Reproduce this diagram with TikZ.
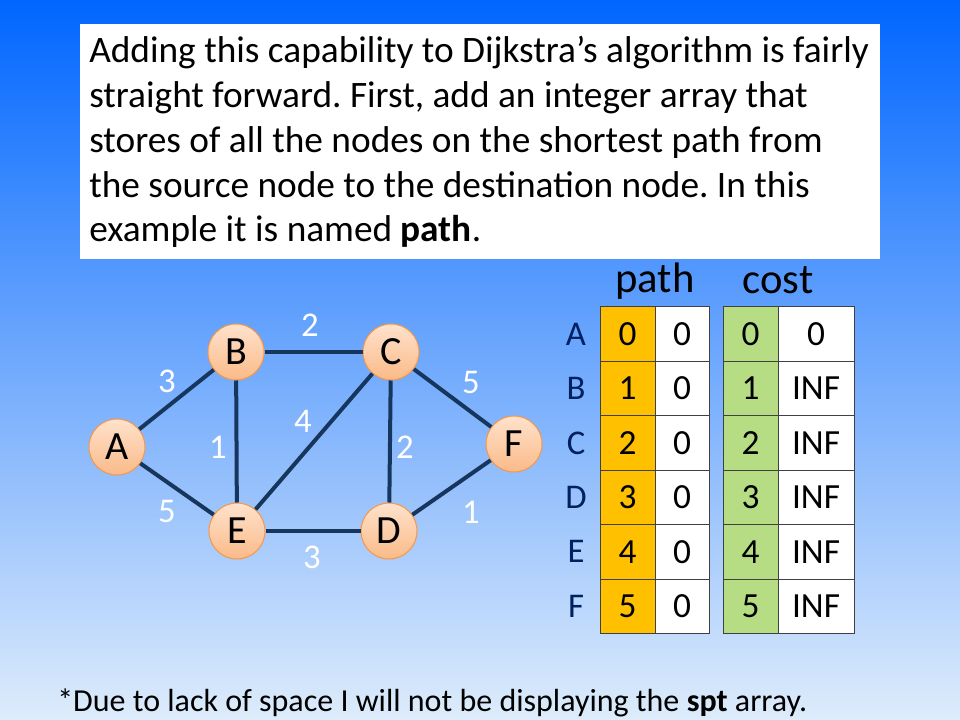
\documentclass[tikz,border=0pt]{standalone}
\usepackage{fontspec}
\setmainfont{Carlito}
\usepackage{tikz}
\usetikzlibrary{positioning}
\definecolor{slidetop}{RGB}{0,102,255}
\definecolor{slidemid}{RGB}{98,172,250}
\definecolor{slidebottom}{RGB}{222,236,251}
\definecolor{edgenavy}{RGB}{23,54,93}
\definecolor{nodeorange}{RGB}{247,150,70}
\definecolor{nodelight}{RGB}{255,226,204}
\definecolor{nodedark}{RGB}{250,186,136}
\definecolor{labelblue}{RGB}{0,32,96}
\definecolor{pathorange}{RGB}{255,192,0}
\definecolor{costgreen}{RGB}{182,221,132}
\definecolor{cellgray}{RGB}{64,64,64}
\frenchspacing

\begin{document}
\begin{tikzpicture}[x=0.75pt, y=-0.75pt,
    vertex/.style={circle, draw=nodeorange, line width=0.75pt, top color=nodelight, bottom color=nodedark,
        minimum size=42pt, inner sep=0pt, font=\fontsize{30}{36}\selectfont},
    edge/.style={draw=edgenavy, line width=3pt},
    weight/.style={text=white, inner sep=0pt, font=\fontsize{26}{31}\selectfont},
    cell/.style={draw=cellgray, line width=0.75pt, minimum height=40.8pt, inner sep=0pt, font=\fontsize{26.5}{32}\selectfont},
    rowlabel/.style={text=labelblue, inner sep=0pt, font=\fontsize{26}{31}\selectfont},
    head/.style={anchor=base, inner sep=0pt, font=\fontsize{32}{38}\selectfont}]
    % Slide
    \shade[top color=slidetop, middle color=slidemid, bottom color=slidebottom] (0,0) rectangle (960,720);
    \useasboundingbox (0,0) rectangle (960,720);

    % Intro text
    \fill[white] (80,24) rectangle (880,259);
    \node[anchor=base west, inner sep=0pt, align=left, font=\fontsize{28}{33.6}\selectfont] (intro) at (89,242)
        {Adding this capability to Dijkstra’s algorithm is fairly\\
         straight forward. First, add an integer array that\\
         stores of all the nodes on the shortest path from\\
         the source node to the destination node. In this\\
         example it is named \textbf{path}.};

    % Graph
    \node[vertex] (A) at (117,447) {A};
    \node[vertex] (B) at (236,352) {B};
    \node[vertex] (C) at (391,352) {C};
    \node[vertex] (D) at (389,531) {D};
    \node[vertex] (E) at (237,531) {E};
    \node[vertex] (F) at (514,444) {F};
    \draw[edge] (A) -- (B);
    \draw[edge] (A) -- (E);
    \draw[edge] (B) -- (C);
    \draw[edge] (B) -- (E);
    \draw[edge] (E) -- (C);
    \draw[edge] (C) -- (D);
    \draw[edge] (C) -- (F);
    \draw[edge] (E) -- (D);
    \draw[edge] (D) -- (F);
    \node[weight] (wAB) at (167,381) {3};
    \node[weight] (wAE) at (167,511) {5};
    \node[weight] (wBC) at (310,325) {2};
    \node[weight] (wBE) at (218,447) {1};
    \node[weight] (wEC) at (303,421) {4};
    \node[weight] (wCD) at (405,447) {2};
    \node[weight] (wCF) at (471,382) {5};
    \node[weight] (wDF) at (471,512) {1};
    \node[weight] (wED) at (312,557) {3};

    % Arrays
    \node[head] (pathhead) at (655,292) {path};
    \node[head] (costhead) at (778,293) {cost};
    \foreach \r/\v in {0/A,1/B,2/C,3/D,4/E,5/F} {
        \node[rowlabel] (l\r) at (576,334.2+54.4*\r) {\v};
        \node[cell, fill=pathorange, minimum width=41.25pt] (p\r) at (627.5,334.2+54.4*\r) {\r};
        \node[cell, fill=white, minimum width=40.5pt] (pv\r) at (682,334.2+54.4*\r) {0};
        \node[cell, fill=costgreen, minimum width=41.25pt] (c\r) at (750.5,334.2+54.4*\r) {\r};
        \node[cell, fill=white, minimum width=57pt] (cv\r) at (816,334.2+54.4*\r) {\ifnum\r=0 0\else INF\fi};
    }

    % Note
    \node[anchor=base west, inner sep=0pt, font=\fontsize{24}{29}\selectfont] (note) at (57,711)
        {*Due to lack of space I will not be displaying the \textbf{spt} array.};
\end{tikzpicture}
\end{document}
